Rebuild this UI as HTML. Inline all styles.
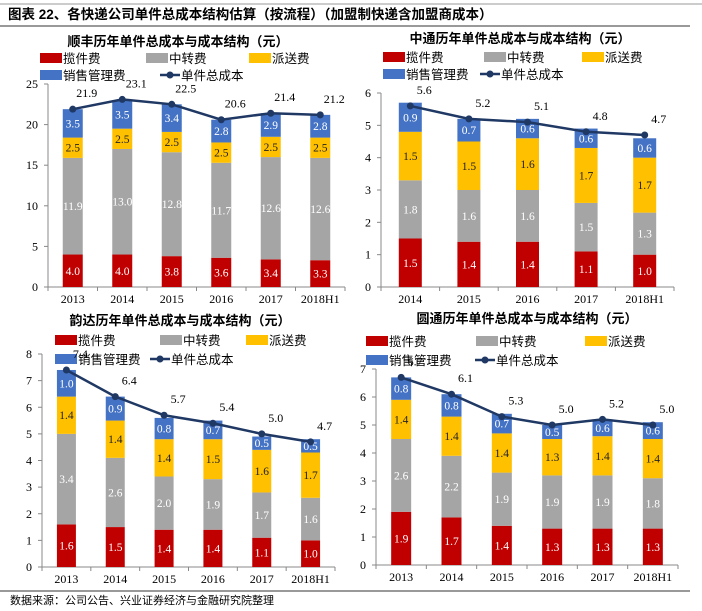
<!DOCTYPE html>
<html><head><meta charset="utf-8"><style>
body{margin:0;background:#fff}
svg{display:block}
text{font-family:"Liberation Serif","Noto Serif CJK SC",serif}
.cj{font-family:"Liberation Sans","Noto Sans CJK SC",sans-serif}
</style></head><body>
<svg id="s" width="702" height="611" viewBox="0 0 702 611" xmlns="http://www.w3.org/2000/svg">
<line x1="0" y1="4" x2="702" y2="4" stroke="#999" stroke-width="1"/>
<text x="8" y="19" font-size="13.5" font-weight="bold" class="cj">图表 22、各快递公司单件总成本结构估算（按流程）（加盟制快递含加盟商成本）</text>
<line x1="0" y1="26" x2="690" y2="26" stroke="#333" stroke-width="1"/>
<line x1="0" y1="591" x2="690" y2="591" stroke="#333" stroke-width="1"/>
<text x="10" y="604" font-size="11" class="cj">数据来源：公司公告、兴业证券经济与金融研究院整理</text>
</svg>
<script>
const seriesNames=["揽件费","中转费","派送费","销售管理费"];
const lineName="单件总成本";
const colors=["#C00000","#A5A5A5","#FFC000","#4472C4"];
const txtColors=["#fff","#fff","#222","#fff"];

const sfCats=["2013","2014","2015","2016","2017","2018H1"];
const sfPick=[4.0,4.0,3.8,3.6,3.4,3.3];
const sfTrans=[11.9,13.0,12.8,11.7,12.6,12.6];
const sfDeliv=[2.5,2.5,2.5,2.5,2.5,2.5];
const sfSga=[3.5,3.5,3.4,2.8,2.9,2.8];
const sfTotal=[21.9,23.1,22.5,20.6,21.4,21.2];
const sfTicks=[0,5,10,15,20,25];

const ztoCats=["2014","2015","2016","2017","2018H1"];
const ztoPick=[1.5,1.4,1.4,1.1,1.0];
const ztoTrans=[1.8,1.6,1.6,1.5,1.3];
const ztoDeliv=[1.5,1.5,1.6,1.7,1.7];
const ztoSga=[0.9,0.7,0.6,0.6,0.6];
const ztoTotal=[5.6,5.2,5.1,4.8,4.7];
const ztoTicks=[0,1,2,3,4,5,6];

const ydCats=["2013","2014","2015","2016","2017","2018H1"];
const ydPick=[1.6,1.5,1.4,1.4,1.1,1.0];
const ydTrans=[3.4,2.6,2.0,1.9,1.7,1.6];
const ydDeliv=[1.4,1.4,1.4,1.5,1.6,1.7];
const ydSga=[1.0,0.9,0.8,0.7,0.5,0.5];
const ydTotal=[7.4,6.4,5.7,5.4,5.0,4.7];
const ydTicks=[0,1,2,3,4,5,6,7,8];

const ytCats=["2013","2014","2015","2016","2017","2018H1"];
const ytPick=[1.9,1.7,1.4,1.3,1.3,1.3];
const ytTrans=[2.6,2.2,1.9,1.9,1.9,1.8];
const ytDeliv=[1.4,1.4,1.4,1.3,1.4,1.4];
const ytSga=[0.8,0.8,0.7,0.5,0.6,0.6];
const ytTotal=[6.7,6.1,5.3,5.0,5.2,5.0];
const ytTicks=[0,1,2,3,4,5,6,7];

const svg=document.getElementById('s');
const NS="http://www.w3.org/2000/svg";
function el(tag,attrs,parent){const e=document.createElementNS(NS,tag);for(const k in attrs)e.setAttribute(k,attrs[k]);(parent||svg).appendChild(e);return e;}
function txt(x,y,s,size,fill,anchor,parent,cls){const t=el('text',{x:x,y:y,'font-size':size,fill:fill||'#000','text-anchor':anchor||'start'},parent);if(cls)t.setAttribute('class',cls);t.textContent=s;return t;}

function chart(cfg){
  const g=el('g',{});
  
  
  const ymax=cfg.ticks[cfg.ticks.length-1];
  const y=v=>cfg.y0-(cfg.y0-cfg.yTop)*v/ymax;
  const n=cfg.cats.length;
  const step=(cfg.x1-cfg.ax)/n;
  const xc=i=>cfg.ax+step*(i+0.5);
  const t=txt(cfg.titleX,cfg.titleY,cfg.title,13,'#000','middle',g,'cj');
  t.setAttribute('font-weight','bold');
  
  
  const L=cfg.leg;
  const items=[[0,L.r1x[0],L.r1y],[1,L.r1x[1],L.r1y],[2,L.r1x[2],L.r1y],[3,L.r2x[0],L.r2y]];
  items.forEach(([k,x,yy])=>{
    const r=el('rect',{x:x,y:yy-5,width:22,height:10,fill:colors[k]},g);
    
    
    const lt=txt(x+23,yy+5,seriesNames[k],12.5,'#000','start',g,'cj');
    
    
  });
  const lx=L.r2x[1];
  const ll=el('line',{x1:lx,y1:L.r2y,x2:lx+20,y2:L.r2y,stroke:'#1F3864','stroke-width':2.5},g);
  
  
  el('circle',{cx:lx+10,cy:L.r2y,r:3.5,fill:'#1F3864'},g);
  const lt2=txt(lx+21,L.r2y+5,lineName,12.5,'#000','start',g,'cj');
  
  
  const ya=el('line',{x1:cfg.ax,y1:cfg.yTop,x2:cfg.ax,y2:cfg.y0,stroke:'#888'},g);
  
  
  cfg.ticks.forEach(v=>{
    el('line',{x1:cfg.ax-4,y1:y(v),x2:cfg.ax,y2:y(v),stroke:'#888'},g);
    const tl=txt(cfg.ax-10,y(v)+4,String(v),12,'#000','end',g);
    
    
  });
  const xa=el('line',{x1:cfg.ax,y1:cfg.y0,x2:cfg.x1,y2:cfg.y0,stroke:'#888'},g);
  
  
  for(let i=0;i<=n;i++)el('line',{x1:cfg.ax+step*i,y1:cfg.y0,x2:cfg.ax+step*i,y2:cfg.y0+4,stroke:'#888'},g);
  const series=cfg.series;
  cfg.cats.forEach((c,i)=>{
    let acc=0;
    series.forEach((arr,k)=>{
      const v=arr[i];
      const r=el('rect',{x:xc(i)-cfg.bw/2,y:y(acc+v),width:cfg.bw,height:y(acc)-y(acc+v),fill:colors[k]},g);
      
      
      const vl=txt(xc(i),(y(acc)+y(acc+v))/2+4,v.toFixed(1),11.5,txtColors[k],'middle',g);
      
      
      acc+=v;
    });
    const xl=txt(xc(i),cfg.y0+16,c,12,'#000','middle',g);
    
    
  });
  const pts=cfg.total.map((v,i)=>xc(i)+','+y(v)).join(' ');
  const pl=el('polyline',{points:pts,fill:'none',stroke:'#1F3864','stroke-width':2.5},g);
  
  
  cfg.total.forEach((v,i)=>{
    const c=el('circle',{cx:xc(i),cy:y(v),r:3.5,fill:'#1F3864'},g);
    
    
    const tl=txt(xc(i)+14,y(v)-12,v.toFixed(1),12,'#000','middle',g);
    
    
  });
}

chart({name:'sf-chart',title:'顺丰历年单件总成本与成本结构（元）',titleX:178,titleY:46,
  cats:sfCats,series:[sfPick,sfTrans,sfDeliv,sfSga],total:sfTotal,ticks:sfTicks,
  ax:48,x1:345,y0:287,yTop:84,bw:20,
  leg:{r1y:58,r1x:[40,146,249],r2y:75,r2x:[40,160]}});
chart({name:'zto-chart',title:'中通历年单件总成本与成本结构（元）',titleX:520,titleY:43,
  cats:ztoCats,series:[ztoPick,ztoTrans,ztoDeliv,ztoSga],total:ztoTotal,ticks:ztoTicks,
  ax:381,x1:674,y0:287,yTop:93,bw:23,
  leg:{r1y:57,r1x:[383,484,582],r2y:74,r2x:[383,480]}});
chart({name:'yunda-chart',title:'韵达历年单件总成本与成本结构（元）',titleX:180,titleY:325,
  cats:ydCats,series:[ydPick,ydTrans,ydDeliv,ydSga],total:ydTotal,ticks:ydTicks,
  ax:42,x1:335,y0:567,yTop:354,bw:19,
  leg:{r1y:340,r1x:[55,160,246],r2y:359,r2x:[55,150]}});
chart({name:'yto-chart',title:'圆通历年单件总成本与成本结构（元）',titleX:527,titleY:323,
  cats:ytCats,series:[ytPick,ytTrans,ytDeliv,ytSga],total:ytTotal,ticks:ytTicks,
  ax:376,x1:678,y0:565,yTop:369,bw:20,
  leg:{r1y:341,r1x:[366,476,585],r2y:360,r2x:[366,475]}});
</script>
</body></html>
